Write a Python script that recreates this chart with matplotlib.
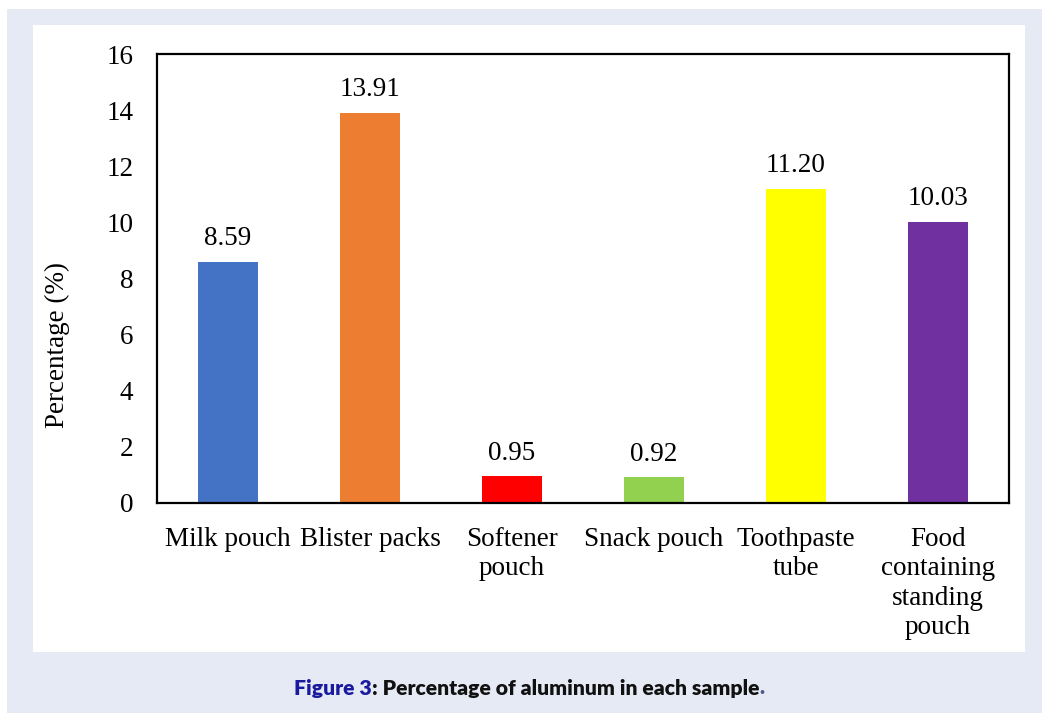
import matplotlib
matplotlib.use("Agg")
import matplotlib.pyplot as plt
from matplotlib.patches import Rectangle

categories = ["Milk pouch", "Blister packs", "Softener\npouch", "Snack pouch",
              "Toothpaste\ntube", "Food\ncontaining\nstanding\npouch"]
values = [8.59, 13.91, 0.95, 0.92, 11.20, 10.03]
labels = ["8.59", "13.91", "0.95", "0.92", "11.20", "10.03"]
colors = ["#4472C4", "#ED7D31", "#FF0000", "#92D050", "#FFFF00", "#7030A0"]
yticks = [0, 2, 4, 6, 8, 10, 12, 14, 16]

W, H = 1042, 713
fig = plt.figure(figsize=(W / 100, H / 100), dpi=100)
fig.patch.set_facecolor("white")

# outer light panel and inner white panel
fig.patches.append(Rectangle((7 / W, 0), (W - 7) / W, (H - 9) / H,
                             transform=fig.transFigure, facecolor="#E6EAF5",
                             edgecolor="none", zorder=-10))
fig.patches.append(Rectangle((33 / W, (H - 652) / H), (1025 - 33) / W, (652 - 25) / H,
                             transform=fig.transFigure, facecolor="white",
                             edgecolor="none", zorder=-9))

serif = "Liberation Serif"
fs = 19.5

ax_l, ax_r, ax_t, ax_b = 157, 1009, 54, 503
ax = fig.add_axes([ax_l / W, (H - ax_b) / H, (ax_r - ax_l) / W, (ax_b - ax_t) / H])
ax.set_facecolor("white")

x = list(range(len(categories)))
ax.bar(x, values, width=0.42, color=colors, zorder=2)
for xi, v, lab in zip(x, values, labels):
    ax.annotate(lab, (xi, v), xytext=(0, 12), textcoords="offset points",
                ha="center", va="baseline", fontsize=fs, family=serif)

ax.set_xlim(-0.5, len(categories) - 0.5)
ax.set_ylim(0, 16)
ax.set_yticks(yticks)
ax.set_yticklabels([str(t) for t in yticks], fontsize=fs, family=serif)
ax.set_xticks(x)
ax.set_xticklabels(categories, fontsize=fs, family=serif, linespacing=1.24)
ax.tick_params(axis="y", length=0, pad=17)
ax.tick_params(axis="x", length=0, pad=17)
for s in ax.spines.values():
    s.set_linewidth(1.6)
    s.set_color("black")
ax.set_ylabel("Percentage (%)", fontsize=fs, family=serif)
ax.yaxis.set_label_coords(-87 / (ax_r - ax_l), (ax_b - 345) / (ax_b - ax_t))

# caption
fig.canvas.draw()
r = fig.canvas.get_renderer()
parts = [("Figure 3", "#1A1A9E"), (": Percentage of aluminum in each sample", "#111111"), (".", "#4A5A8A")]
cap_fs = 15.2
texts = []
for s, c in parts:
    t = fig.text(0, (H - 688) / H, s, fontsize=cap_fs, family="Lato", weight="heavy",
                 color=c, ha="left", va="center")
    texts.append(t)
widths = [t.get_window_extent(r).width for t in texts]
total = sum(widths)
xs = 529 - total / 2
for t, w in zip(texts, widths):
    t.set_x(xs / W)
    xs += w

fig.savefig("out.png", dpi=100)
